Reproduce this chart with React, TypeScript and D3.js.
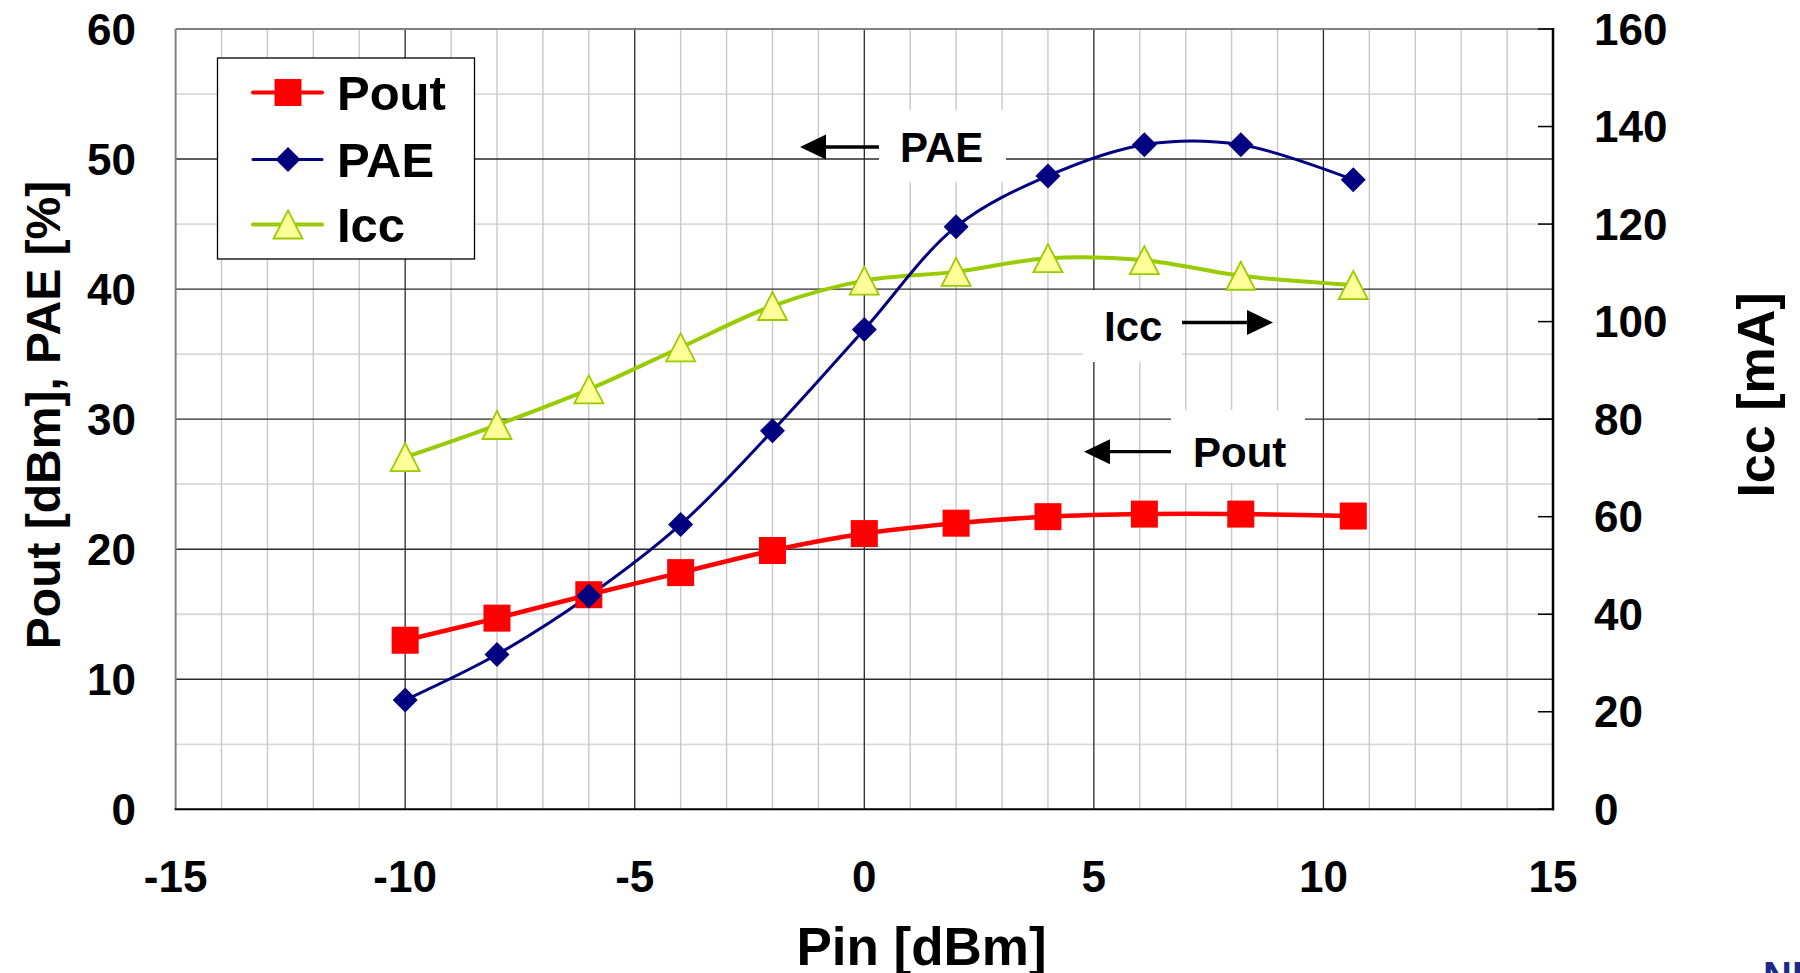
import React from "react";
import * as d3 from "d3";

// ---- data ----
const pin = [-10, -8, -6, -4, -2, 0, 2, 4, 6.1, 8.2, 10.65];
const pout = [13.0, 14.7, 16.5, 18.2, 19.9, 21.2, 22.0, 22.5, 22.7, 22.7, 22.55];
const pae = [8.4, 11.9, 16.4, 21.9, 29.1, 36.9, 44.8, 48.7, 51.1, 51.1, 48.4];
const icc = [72.2, 78.8, 86.1, 94.7, 103.2, 108.4, 110.2, 113.0, 112.6, 109.4, 107.5];

const xTicks = [-15, -10, -5, 0, 5, 10, 15];
const yLeftTicks = [0, 10, 20, 30, 40, 50, 60];
const yRightTicks = [0, 20, 40, 60, 80, 100, 120, 140, 160];

const legendItems = ["Pout", "PAE", "Icc"];

const FONT = '"Liberation Sans", Arial, Helvetica, sans-serif';
const RED = "#ff0000";
const NAVY = "#000080";
const GREEN = "#99cc00";
const TRI_FILL = "#ffff99";

const W = 1800;
const H = 973;
const L = 175.6;
const R = 1553;
const T = 29;
const B = 809.3;

const x = d3.scaleLinear().domain([-15, 15]).range([L, R]);
const yL = d3.scaleLinear().domain([0, 60]).range([B, T]);
const yR = d3.scaleLinear().domain([0, 160]).range([B, T]);

const curve = d3.curveCatmullRom.alpha(0.5);

function Square({ cx, cy, s = 27 }: { cx: number; cy: number; s?: number }) {
  return <rect x={cx - s / 2} y={cy - s / 2} width={s} height={s} fill={RED} />;
}
function Diamond({ cx, cy, r = 12.5 }: { cx: number; cy: number; r?: number }) {
  return (
    <polygon
      points={`${cx},${cy - r} ${cx + r},${cy} ${cx},${cy + r} ${cx - r},${cy}`}
      fill={NAVY}
    />
  );
}
function Triangle({ cx, cy, w = 29, h = 28 }: { cx: number; cy: number; w?: number; h?: number }) {
  return (
    <polygon
      points={`${cx},${cy - h / 2} ${cx + w / 2},${cy + h / 2} ${cx - w / 2},${cy + h / 2}`}
      fill={TRI_FILL}
      stroke={GREEN}
      strokeWidth={1.8}
      strokeLinejoin="miter"
    />
  );
}

export default function App() {
  const idx = d3.range(pin.length);
  const lineL = d3
    .line<number>()
    .x((i) => x(pin[i]))
    .curve(curve);

  const poutPath = lineL.y((i) => yL(pout[i]))(idx) || "";
  const paePath = d3
    .line<number>()
    .x((i) => x(pin[i]))
    .y((i) => yL(pae[i]))
    .curve(curve)(idx) || "";
  const iccPath = d3
    .line<number>()
    .x((i) => x(pin[i]))
    .y((i) => yR(icc[i]))
    .curve(curve)(idx) || "";

  const minorX = d3.range(-14, 15).filter((v) => v % 5 !== 0);
  const majorX = [-10, -5, 0, 5, 10];
  const minorY = d3.range(5, 60, 10);
  const majorY = [10, 20, 30, 40, 50];

  const legendY = [92.5, 159.5, 224.5];

  return (
    <svg
      width={W}
      height={H}
      viewBox={`0 0 ${W} ${H}`}
      style={{ position: "absolute", left: 0, top: 0, fontFamily: FONT }}
    >
      <rect x={0} y={0} width={W} height={H} fill="#ffffff" />

      {/* minor grid */}
      {minorY.map((v) => (
        <line key={"my" + v} x1={L} x2={R} y1={yL(v)} y2={yL(v)} stroke="#d9d9d9" strokeWidth={1.8} />
      ))}
      {minorX.map((v) => (
        <line key={"mx" + v} x1={x(v)} x2={x(v)} y1={T} y2={B} stroke="#c8c8c8" strokeWidth={1.4} />
      ))}
      {/* major grid */}
      {majorY.map((v) => (
        <line key={"My" + v} x1={L} x2={R} y1={yL(v)} y2={yL(v)} stroke="#2a2a2a" strokeWidth={1.4} />
      ))}
      {majorX.map((v) => (
        <line key={"Mx" + v} x1={x(v)} x2={x(v)} y1={T} y2={B} stroke="#2a2a2a" strokeWidth={1.3} />
      ))}

      {/* border */}
      <line x1={L} x2={R} y1={T} y2={T} stroke="#808080" strokeWidth={2} />
      <line x1={L} x2={L} y1={T} y2={B} stroke="#808080" strokeWidth={2} />
      <line x1={L - 1} x2={R + 1} y1={B} y2={B} stroke="#000" strokeWidth={2} />
      <line x1={R} x2={R} y1={T - 1} y2={B + 1} stroke="#000" strokeWidth={2.5} />
      {yRightTicks.map((v) => (
        <line key={"rt" + v} x1={R - 15} x2={R} y1={yR(v)} y2={yR(v)} stroke="#000" strokeWidth={1.5} />
      ))}

      {/* tick labels */}
      {yLeftTicks.map((v) => (
        <text key={"yl" + v} x={136} y={yL(v) + 15.5} textAnchor="end" fontSize={44} fontWeight="bold" fill="#000">
          {v}
        </text>
      ))}
      {yRightTicks.map((v) => (
        <text key={"yr" + v} x={1594} y={yR(v) + 15.5} textAnchor="start" fontSize={44} fontWeight="bold" fill="#000">
          {v}
        </text>
      ))}
      {xTicks.map((v) => (
        <text key={"xt" + v} x={x(v)} y={891.5} textAnchor="middle" fontSize={44} fontWeight="bold" fill="#000">
          {v}
        </text>
      ))}

      {/* axis titles */}
      <text x={921.5} y={964.5} textAnchor="middle" fontSize={53} fontWeight="bold" fill="#000">
        Pin [dBm]
      </text>
      <text
        transform={`translate(60,415) rotate(-90)`}
        textAnchor="middle"
        fontSize={48}
        fontWeight="bold"
        fill="#000"
      >
        Pout [dBm], PAE [%]
      </text>
      <text
        transform={`translate(1774,395) rotate(-90)`}
        textAnchor="middle"
        fontSize={52}
        fontWeight="bold"
        fill="#000"
      >
        Icc [mA]
      </text>

      {/* annotations */}
      <rect x={879} y={110} width={127} height={72} fill="#fff" />
      <line x1={879} x2={824} y1={147} y2={147} stroke="#000" strokeWidth={3.3} />
      <polygon points="800,147 826,134.5 826,159.5" fill="#000" />
      <text x={900} y={162} fontSize={42} fontWeight="bold" fill="#000">PAE</text>

      <rect x={1083} y={290} width={99} height={72} fill="#fff" />
      <text x={1104} y={341} fontSize={42} fontWeight="bold" fill="#000">Icc</text>
      <line x1={1182} x2={1249} y1={322.5} y2={322.5} stroke="#000" strokeWidth={3.3} />
      <polygon points="1273,322.5 1247,310 1247,335" fill="#000" />

      <rect x={1171} y={410} width={134} height={73} fill="#fff" />
      <line x1={1171} x2={1108} y1={451.7} y2={451.7} stroke="#000" strokeWidth={3.3} />
      <polygon points="1084,451.7 1110,439.2 1110,464.2" fill="#000" />
      <text x={1193} y={466.7} fontSize={42} fontWeight="bold" fill="#000">Pout</text>

      {/* series lines */}
      <path d={iccPath} fill="none" stroke={GREEN} strokeWidth={4} />
      <path d={paePath} fill="none" stroke={NAVY} strokeWidth={3} />
      <path d={poutPath} fill="none" stroke={RED} strokeWidth={4.5} />

      {/* markers */}
      {idx.map((i) => (
        <Triangle key={"t" + i} cx={x(pin[i])} cy={yR(icc[i])} />
      ))}
      {idx.map((i) => (
        <Square key={"s" + i} cx={x(pin[i])} cy={yL(pout[i])} />
      ))}
      {idx.map((i) => (
        <Diamond key={"d" + i} cx={x(pin[i])} cy={yL(pae[i])} />
      ))}

      {/* legend */}
      <rect x={217.5} y={58} width={257} height={201} fill="#fff" stroke="#000" strokeWidth={1.3} />
      {legendItems.map((name, k) => {
        const cy = legendY[k];
        const color = k === 0 ? RED : k === 1 ? NAVY : GREEN;
        const sw = k === 1 ? 3 : 4;
        return (
          <g key={name}>
            <line x1={253} x2={322} y1={cy} y2={cy} stroke={color} strokeWidth={sw} strokeLinecap="round" />
            {k === 0 && <Square cx={288} cy={cy} />}
            {k === 1 && <Diamond cx={288} cy={cy} />}
            {k === 2 && <Triangle cx={288} cy={cy} />}
            <text x={337} y={cy + 17} fontSize={49} fontWeight="bold" fill="#000">
              {name}
            </text>
          </g>
        );
      })}

      {/* partial logo at bottom-right */}
      <text x={1763} y={990} fontSize={40} fontWeight="bold" fill="#1a2a8a">NEC</text>
    </svg>
  );
}
